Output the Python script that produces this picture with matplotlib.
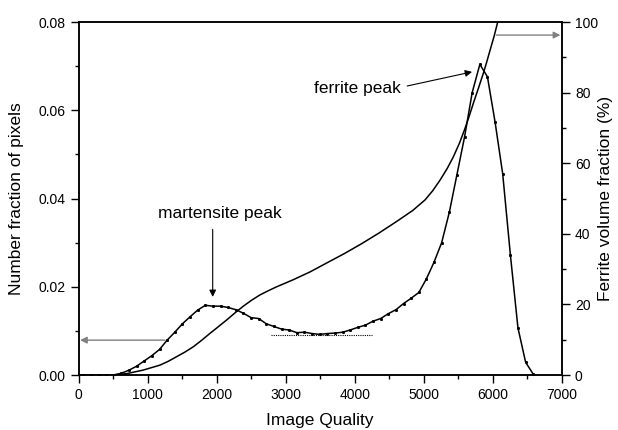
import matplotlib.pyplot as plt
from matplotlib.ticker import MultipleLocator

plt.rcParams['font.family'] = ['Liberation Sans', 'DejaVu Sans']

# histogram of image quality (number fraction of pixels)
iq = [0, 67, 177, 288, 398, 509, 619, 730, 840, 951, 1061, 1172, 1282, 1393,
      1503, 1614, 1724, 1835, 1945, 2056, 2166, 2277, 2387, 2498, 2608, 2719,
      2829, 2940, 3050, 3161, 3271, 3382, 3492, 3603, 3713, 3824, 3934, 4045,
      4155, 4266, 4376, 4487, 4597, 4708, 4818, 4929, 5039, 5150, 5260, 5371,
      5481, 5592, 5702, 5813, 5923, 6034, 6144, 6255, 6365, 6476, 6586]
frac = [0, 0, 0, 0, 0, 0, 0.0004, 0.0011, 0.0020, 0.0032, 0.0044, 0.0058,
        0.0079, 0.0097, 0.0116, 0.0132, 0.0147, 0.0158, 0.0156, 0.0156, 0.0153,
        0.0148, 0.0140, 0.0130, 0.0128, 0.0116, 0.0110, 0.0104, 0.0102, 0.0096,
        0.0097, 0.0094, 0.0092, 0.0094, 0.0095, 0.0097, 0.0102, 0.0108, 0.0113,
        0.0122, 0.0128, 0.0139, 0.0148, 0.0162, 0.0174, 0.0187, 0.0218, 0.0256,
        0.0300, 0.0369, 0.0454, 0.0540, 0.0640, 0.0704, 0.0676, 0.0573, 0.0456,
        0.0273, 0.0107, 0.0029, 0.0002]

# cumulative ferrite volume fraction
cum_iq = [480, 700, 936, 1178, 1300, 1420, 1540, 1661, 1780, 1903, 2025, 2145,
          2265, 2386, 2507, 2628, 2750, 2870, 3110, 3352, 3600, 3850, 4100,
          4350, 4600, 4840, 5019, 5130, 5236, 5340, 5429, 5520, 5599, 5660,
          5719, 5790, 5864, 5910, 5961, 6020, 6072]
cum_pct = [0, 0.4, 1.4, 2.8, 3.9, 5.2, 6.5, 8.0, 9.8, 11.8, 13.7, 15.6,
           17.6, 19.5, 21.2, 22.7, 23.9, 25.0, 27.0, 29.2, 31.8, 34.4, 37.2,
           40.2, 43.4, 46.6, 49.6, 52.2, 55.2, 58.5, 61.8, 65.8, 69.9, 73.4,
           77.0, 81.1, 85.5, 88.5, 92.0, 96.0, 100]

fig = plt.figure(figsize=(6.18, 4.30), dpi=100)
ax = fig.add_axes([0.1273, 0.1279, 0.7817, 0.8209])
ax2 = ax.twinx()

ax.plot(iq, frac, color='black', lw=1.1, marker='s', ms=1.1)
ax2.plot(cum_iq, cum_pct, color='black', lw=1.1)

# dotted baseline under the minimum
ax.plot([2790, 4250], [0.0091, 0.0091], color='black', lw=0.8, ls=(0, (1, 1)))

ax.set_xlim(0, 7000)
ax.set_ylim(0, 0.08)
ax2.set_ylim(0, 100)

ax.xaxis.set_major_locator(MultipleLocator(1000))
ax.xaxis.set_minor_locator(MultipleLocator(500))
ax.yaxis.set_minor_locator(MultipleLocator(0.01))
ax2.yaxis.set_major_locator(MultipleLocator(20))
ax2.yaxis.set_minor_locator(MultipleLocator(10))
ax.set_yticks([0, 0.02, 0.04, 0.06, 0.08])
ax.set_yticklabels(['0.00', '0.02', '0.04', '0.06', '0.08'])

for a in (ax, ax2):
    a.tick_params(which='major', length=5.5, width=1, labelsize=10,
                  direction='out', pad=4)
    a.tick_params(which='minor', length=3, width=1, direction='out')
    for s in a.spines.values():
        s.set_linewidth(1.1)

ax.set_xlabel('Image Quality', fontsize=12.5, labelpad=8)
ax.set_ylabel('Number fraction of pixels', fontsize=12.5, va='center')
ax2.set_ylabel('Ferrite volume fraction (%)', fontsize=12.5, va='center')
ax.yaxis.set_label_coords(-0.128, 0.5)
ax2.yaxis.set_label_coords(1.09, 0.5)

ax.text(2048, 0.0367, 'martensite peak', ha='center', va='center', fontsize=12.5)
ax.annotate('', xy=(1942, 0.0177), xytext=(1942, 0.0330),
            arrowprops=dict(arrowstyle='-|>', color='black', lw=0.8,
                            mutation_scale=10, shrinkA=0, shrinkB=0))
ax.text(4040, 0.0650, 'ferrite peak', ha='center', va='center', fontsize=12.5)
ax.annotate('', xy=(5700, 0.0687), xytext=(4760, 0.0655),
            arrowprops=dict(arrowstyle='-|>', color='black', lw=0.8,
                            mutation_scale=10, shrinkA=0, shrinkB=0))

# arrows pointing to the relevant axes
ax.annotate('', xy=(20, 0.0079), xytext=(1250, 0.0079),
            arrowprops=dict(arrowstyle='-|>', color='#808080', lw=1.0,
                            mutation_scale=10, shrinkA=0, shrinkB=0))
ax2.annotate('', xy=(6980, 96.3), xytext=(6050, 96.3),
             arrowprops=dict(arrowstyle='-|>', color='#808080', lw=1.0,
                             mutation_scale=10, shrinkA=0, shrinkB=0))

fig.savefig('out.png', dpi=100)
